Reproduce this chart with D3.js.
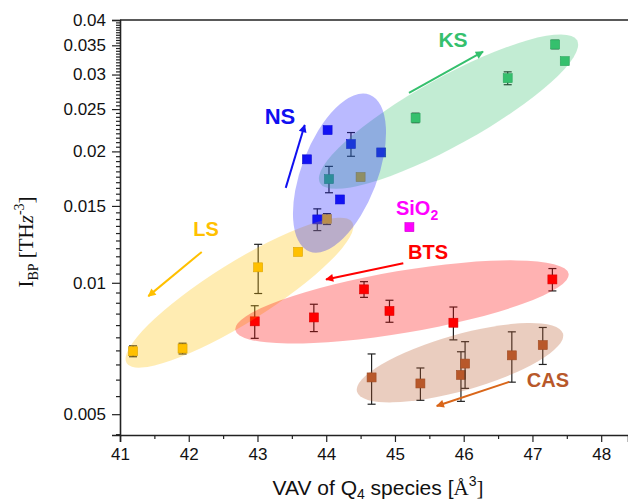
<!DOCTYPE html>
<html>
<head>
<meta charset="utf-8">
<script src="https://cdnjs.cloudflare.com/ajax/libs/d3/7.8.5/d3.min.js"></script>
<style>
  body { margin: 0; background: #fff; }
  svg { display: block; }
</style>
</head>
<body>
<div id="chart"></div>
<script>
// values: x = VAV, y = I_BP, e = +/- error
var lsX = [41.19, 41.91, 43.01, 43.59, 44.01, 44.50];
var lsY = [0.00697, 0.00707, 0.01085, 0.01177, 0.0140, 0.01747];
var lsE = [0.0002, 0.0002, 0.0014, 0.0002, 0.0004, 0.0002];

var ksX = [47.33, 47.47, 46.64, 45.30, 44.04];
var ksY = [0.03516, 0.0322, 0.02943, 0.02387, 0.01728];
var ksE = [0.0008, 0.0003, 0.001, 0.0006, 0.0012];

var nsX = [43.72, 44.02, 44.36, 44.80, 44.20, 43.87];
var nsY = [0.01918, 0.02238, 0.02079, 0.01989, 0.01552, 0.01397];
var nsE = [0.0002, 0.0002, 0.0013, 0.0002, 0.0002, 0.0008];

var sioX = [45.21];
var sioY = [0.01341];
var sioE = [0.0002];

var btsX = [42.96, 43.82, 44.55, 44.92, 45.85, 47.29];
var btsY = [0.00816, 0.00833, 0.00966, 0.00862, 0.0081, 0.01018];
var btsE = [0.0007, 0.0006, 0.0004, 0.0005, 0.0007, 0.0006];

var casX = [44.66, 45.37, 45.96, 46.02, 46.70, 47.15];
var casY = [0.00607, 0.00588, 0.00615, 0.00653, 0.00682, 0.0072];
var casE = [0.0008, 0.0005, 0.0008, 0.0008, 0.0009, 0.0007];

var xTicks = [41, 42, 43, 44, 45, 46, 47, 48];
var yTicks = [0.005, 0.01, 0.015, 0.02, 0.025, 0.03, 0.035, 0.04];

var groups = [
  {name: "LS",  color: "#ffc000", x: lsX,  y: lsY,  e: lsE},
  {name: "KS",  color: "#35c06d", x: ksX,  y: ksY,  e: ksE},
  {name: "NS",  color: "#1010f0", x: nsX,  y: nsY,  e: nsE},
  {name: "SiO2", color: "#ff00ff", x: sioX, y: sioY, e: sioE},
  {name: "BTS", color: "#ff0000", x: btsX, y: btsY, e: btsE},
  {name: "CAS", color: "#b8582a", x: casX, y: casY, e: casE}
];

// shaded ellipses: centre in data units, radii in px, tilt in degrees
var ellipses = [
  {color: "#ffc000", cx: 42.738, cy: 0.00949, rx: 133, ry: 30, a: -32},
  {color: "#35c06d", cx: 45.779, cy: 0.02467, rx: 147, ry: 34, a: -29},
  {color: "#1a1aff", cx: 44.193, cy: 0.01784, rx: 84,  ry: 38, a: -69},
  {color: "#ff0000", cx: 45.102, cy: 0.00904, rx: 169, ry: 31, a: -9.6},
  {color: "#b8582a", cx: 45.946, cy: 0.00656, rx: 107, ry: 28, a: -15.8}
];

var labels = [
  {t: "LS",  color: "#ffc000", x: 42.251, y: 0.01279, size: 20},
  {t: "KS",  color: "#35c06d", x: 45.844, y: 0.03468, size: 21},
  {t: "NS",  color: "#1010f0", x: 43.328, y: 0.0231,  size: 22},
  {t: "BTS", color: "#ff0000", x: 45.481, y: 0.01131, size: 20},
  {t: "CAS", color: "#b8582a", x: 47.226, y: 0.005775, size: 20}
];

var arrows = [
  {color: "#ffc000", x1: 42.189, y1: 0.01177, x2: 41.412, y2: 0.00932},
  {color: "#35c06d", x1: 45.204, y1: 0.02725, x2: 46.281, y2: 0.03385},
  {color: "#1010f0", x1: 43.411, y1: 0.0165,  x2: 43.687, y2: 0.02299},
  {color: "#ff0000", x1: 45.121, y1: 0.01108, x2: 43.997, y2: 0.01018},
  {color: "#d9661a", x1: 46.663, y1: 0.00593, x2: 45.607, y2: 0.00522}
];

var W = 628, H = 502;
var svg = d3.select("#chart").append("svg").attr("width", W).attr("height", H);

var x = d3.scaleLinear().domain([41, 48.39]).range([120, 628]);
var y = d3.scaleLog().domain([0.00448, 0.04]).range([435, 20]);

// minor ticks
var xMinor = d3.range(41.5, 48.4, 1);
var yMinor = d3.range(45, 400, 5).map(function(d) { return d / 10000; })
  .filter(function(d) { return Math.round(d * 10000) % 50 !== 0; });

var axisColor = "#222";
var sans = "'Liberation Sans', Arial, sans-serif";

svg.append("g").attr("transform", "translate(0,435)")
  .call(d3.axisBottom(x).tickValues(xMinor).tickSize(4).tickFormat(""))
  .call(function(g) { g.select(".domain").remove(); });
svg.append("g").attr("class", "xaxis").attr("transform", "translate(0,435)")
  .call(d3.axisBottom(x).tickValues(xTicks).tickSize(7).tickPadding(6).tickFormat(d3.format("d")));

svg.append("g").attr("transform", "translate(120,0)")
  .call(d3.axisLeft(y).tickValues(yMinor).tickSize(4).tickFormat(""))
  .call(function(g) { g.select(".domain").remove(); });
svg.append("g").attr("class", "yaxis").attr("transform", "translate(120,0)")
  .call(d3.axisLeft(y).tickValues(yTicks).tickSize(8).tickPadding(6)
    .tickFormat(function(d) { return String(+d.toFixed(3)); }));

svg.selectAll(".tick text")
  .attr("font-family", sans).attr("font-size", 17).attr("fill", "#111");
svg.selectAll(".tick line").attr("stroke", axisColor).attr("stroke-width", 1.2);
svg.selectAll(".domain").attr("stroke", axisColor).attr("stroke-width", 1.6);

// top frame line
svg.append("line").attr("x1", 120).attr("x2", 628)
  .attr("y1", y(0.04)).attr("y2", y(0.04))
  .attr("stroke", axisColor).attr("stroke-width", 1.6);

// points with error bars
groups.forEach(function(gr) {
  var g = svg.append("g");
  gr.x.forEach(function(xv, i) {
    var cx = x(xv), yv = gr.y[i], e = gr.e[i];
    var top = y(yv + e), bot = y(yv - e);
    g.append("line").attr("x1", cx).attr("x2", cx).attr("y1", top).attr("y2", bot)
      .attr("stroke", "#222").attr("stroke-width", 1.2);
    [top, bot].forEach(function(yy) {
      g.append("line").attr("x1", cx - 4).attr("x2", cx + 4).attr("y1", yy).attr("y2", yy)
        .attr("stroke", "#222").attr("stroke-width", 1.2);
    });
    g.append("rect").attr("x", cx - 4.5).attr("y", y(yv) - 4.5)
      .attr("width", 9).attr("height", 9)
      .attr("fill", gr.color).attr("stroke", d3.color(gr.color).darker(0.6)).attr("stroke-width", 0.6);
  });
});

// translucent group ellipses drawn over the points
svg.append("g").selectAll("ellipse").data(ellipses).enter().append("ellipse")
  .attr("cx", 0).attr("cy", 0)
  .attr("rx", function(d) { return d.rx; })
  .attr("ry", function(d) { return d.ry; })
  .attr("transform", function(d) { return "translate(" + x(d.cx) + "," + y(d.cy) + ") rotate(" + d.a + ")"; })
  .attr("fill", function(d) { return d.color; })
  .attr("fill-opacity", 0.3);

// arrows
var defs = svg.append("defs");
arrows.forEach(function(a, i) {
  defs.append("marker").attr("id", "ah" + i)
    .attr("viewBox", "0 0 10 10").attr("refX", 9).attr("refY", 5)
    .attr("markerWidth", 12).attr("markerHeight", 8).attr("markerUnits", "userSpaceOnUse")
    .attr("orient", "auto")
    .append("path").attr("d", "M0,0 L10,5 L0,10 Z").attr("fill", a.color);
  svg.append("line")
    .attr("x1", x(a.x1)).attr("y1", y(a.y1)).attr("x2", x(a.x2)).attr("y2", y(a.y2))
    .attr("stroke", a.color).attr("stroke-width", 2)
    .attr("marker-end", "url(#ah" + i + ")");
});

// group labels
svg.selectAll(".glabel").data(labels).enter().append("text")
  .attr("x", function(d) { return x(d.x); })
  .attr("y", function(d) { return y(d.y); })
  .attr("text-anchor", "middle")
  .attr("fill", function(d) { return d.color; })
  .style("font-family", sans)
  .style("font-weight", "bold")
  .style("font-size", function(d) { return d.size + "px"; })
  .text(function(d) { return d.t; });

var sio = svg.append("text")
  .attr("x", x(45.014)).attr("y", y(0.01431))
  .attr("fill", "#ff00ff")
  .style("font-family", sans)
  .style("font-weight", "bold").style("font-size", "20px");
sio.append("tspan").text("SiO");
sio.append("tspan").attr("dy", 5).style("font-size", "14px").text("2");

// axis titles
var xt = svg.append("text").attr("x", 378).attr("y", 495)
  .attr("text-anchor", "middle").attr("fill", "#111")
  .style("font-family", sans).style("font-size", "21px");
xt.append("tspan").text("VAV of Q");
xt.append("tspan").attr("dy", 4).style("font-size", "14px").text("4");
xt.append("tspan").attr("dy", -4).text(" species [");
xt.append("tspan").style("font-family", "'Liberation Serif', serif").text("Å");
xt.append("tspan").attr("dy", -9).style("font-size", "14px").text("3");
xt.append("tspan").attr("dy", 9).style("font-family", "'Liberation Serif', serif").text("]");

var yt = svg.append("text")
  .attr("transform", "translate(33,242) rotate(-90)")
  .attr("text-anchor", "middle").attr("fill", "#111")
  .style("font-family", "'Liberation Serif', 'Times New Roman', serif").style("font-size", "21px");
yt.append("tspan").text("I");
yt.append("tspan").attr("dy", 5).style("font-size", "14px").text("BP");
yt.append("tspan").attr("dy", -5).text(" [TH");
yt.append("tspan").style("font-style", "italic").text("z");
yt.append("tspan").attr("dy", -9).style("font-size", "14px").text("-3");
yt.append("tspan").attr("dy", 9).text("]");
</script>
</body>
</html>
